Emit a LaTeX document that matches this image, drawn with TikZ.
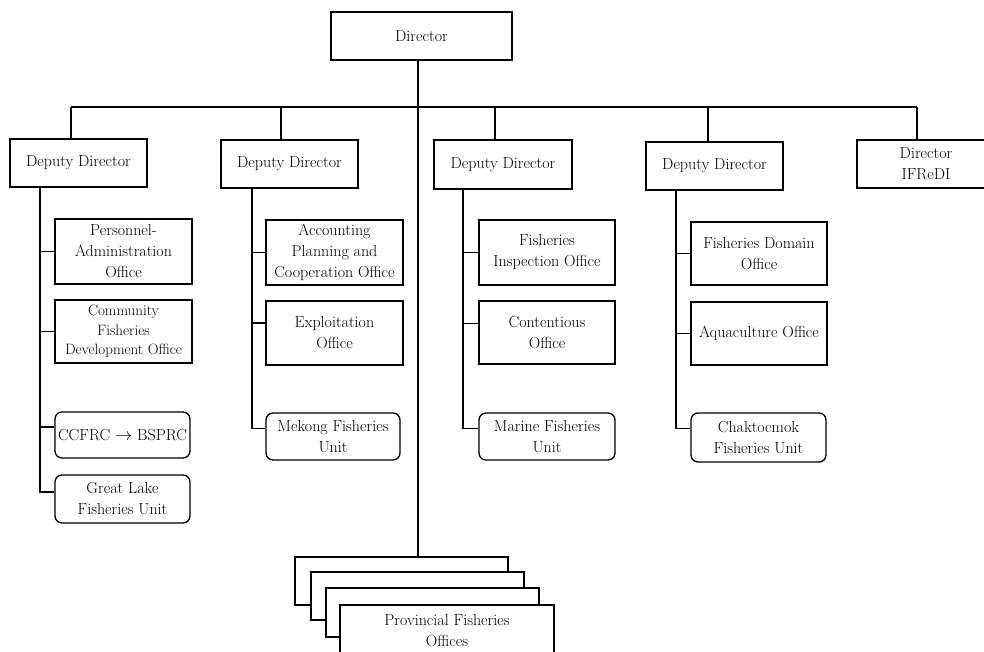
\documentclass[tikz,border=0pt]{standalone}
\usepackage{fontspec}
\setmainfont{Latin Modern Roman}
\begin{document}
\begin{tikzpicture}[x=1pt,y=-1pt,
  box/.style={draw, line width=1.3pt, fill=white, align=center, inner sep=1pt,
    font=\fontsize{16}{21}\selectfont},
  rbox/.style={box, rounded corners=7pt},
  conn/.style={line width=1.3pt}]
\clip (0,0) rectangle (984,652);
\fill[white] (0,0) rectangle (984,652);

% top
\node[box, minimum width=181pt, minimum height=48pt] (dir) at (421.5,36) {Director};

% deputy directors
\node[box, minimum width=137pt, minimum height=48pt] (dd1) at (78.5,163) {Deputy Director};
\node[box, minimum width=137pt, minimum height=48pt] (dd2) at (289.5,164) {Deputy Director};
\node[box, minimum width=138pt, minimum height=49pt] (dd3) at (503,164.5) {Deputy Director};
\node[box, minimum width=137pt, minimum height=48pt] (dd4) at (714.5,166) {Deputy Director};
\node[box, minimum width=138pt, minimum height=48pt] (ifr) at (926,164) {Director\\IFReDI};

% bus
\coordinate (b1) at (71,107);
\coordinate (b2) at (281,107);
\coordinate (b3) at (495,107);
\coordinate (b4) at (708,107);
\coordinate (b5) at (917,107);
\coordinate (bc) at (418,107);
\draw[conn] (b1) -- (b5);
\draw[conn] (dir.south -| bc) -- (bc);
\draw[conn] (b1) -- (b1 |- dd1.north);
\draw[conn] (b2) -- (b2 |- dd2.north);
\draw[conn] (b3) -- (b3 |- dd3.north);
\draw[conn] (b4) -- (b4 |- dd4.north);
\draw[conn] (b5) -- (b5 |- ifr.north);

% column 1
\node[box, minimum width=137pt, minimum height=65pt] (pers) at (123.5,251.5) {Personnel-\\Administration\\Office};
\node[box, minimum width=137pt, minimum height=63pt, font=\fontsize{15}{19.5}\selectfont] (comm) at (123.5,331.5) {Community\\Fisheries\\Development Office};
\node[rbox, minimum width=135pt, minimum height=46pt] (ccf) at (122.5,435) {CCFRC $\rightarrow$ BSPRC};
\node[rbox, minimum width=135pt, minimum height=48pt] (gl) at (122.5,499) {Great Lake\\Fisheries Unit};
\coordinate (s1) at (40,0);
\draw[conn] (dd1.south -| s1) |- ([yshift=7pt]gl.west);
\draw[conn] (pers.west -| s1) -- (pers.west);
\draw[conn] (comm.west -| s1) -- (comm.west);
\draw[conn] ([yshift=8pt]ccf.west -| s1) -- ([yshift=8pt]ccf.west);

% column 2
\node[box, minimum width=137pt, minimum height=65pt] (acc) at (334.5,252.5) {Accounting\\Planning and\\Cooperation Office};
\node[box, minimum width=137pt, minimum height=64pt] (expl) at (334.5,333) {Exploitation\\Office};
\node[rbox, minimum width=134pt, minimum height=47pt] (mek) at (333,436.5) {Mekong Fisheries\\Unit};
\coordinate (s2) at (252,0);
\draw[conn] (dd2.south -| s2) |- ([yshift=8pt]mek.west);
\draw[conn] (acc.west -| s2) -- (acc.west);
\draw[conn] ([yshift=10pt]expl.west -| s2) -- ([yshift=10pt]expl.west);

% column 3
\node[box, minimum width=136pt, minimum height=65pt] (insp) at (547,252.5) {Fisheries\\Inspection Office};
\node[box, minimum width=136pt, minimum height=63pt] (cont) at (547,332.5) {Contentious\\Office};
\node[rbox, minimum width=136pt, minimum height=47pt] (mar) at (547,436.5) {Marine Fisheries\\Unit};
\coordinate (s3) at (463,0);
\draw[conn] (dd3.south -| s3) |- ([yshift=8pt]mar.west);
\draw[conn] (insp.west -| s3) -- (insp.west);
\draw[conn] ([yshift=9pt]cont.west -| s3) -- ([yshift=9pt]cont.west);

% column 4
\node[box, minimum width=136pt, minimum height=63pt] (dom) at (759,253.5) {Fisheries Domain\\Office};
\node[box, minimum width=136pt, minimum height=63pt] (aqua) at (759,333.5) {Aquaculture Office};
\node[rbox, minimum width=135pt, minimum height=49pt] (chak) at (758.5,437.5) {Chaktocmok\\Fisheries Unit};
\coordinate (s4) at (676,0);
\draw[conn] (dd4.south -| s4) |- ([yshift=9pt]chak.west);
\draw[conn] (dom.west -| s4) -- (dom.west);
\draw[conn] (aqua.west -| s4) -- (aqua.west);

% provincial offices
\node[box, minimum width=213pt, minimum height=48pt] (pf1) at (401.5,581) {};
\node[box, minimum width=213pt, minimum height=48pt] (pf2) at (417.5,596) {};
\node[box, minimum width=213pt, minimum height=49pt] (pf3) at (432.5,612.5) {};
\node[box, minimum width=214pt, minimum height=52pt] (pf4) at (447,631) {Provincial Fisheries\\Offices};
\draw[conn] (dir.south -| bc) -- (bc |- pf1.north);
\end{tikzpicture}
\end{document}
